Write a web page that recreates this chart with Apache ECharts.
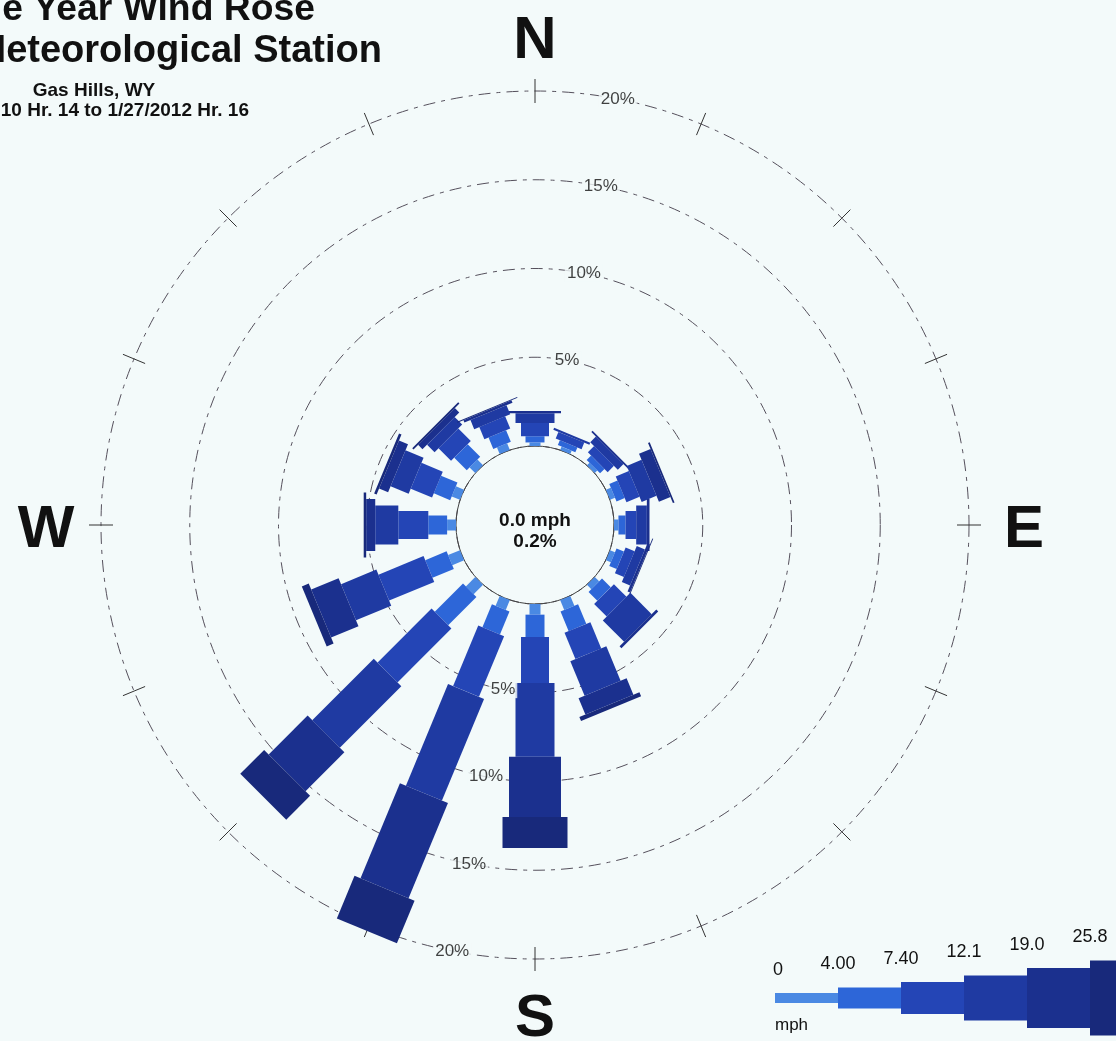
<!DOCTYPE html>
<html>
<head>
<meta charset="utf-8">
<title>Wind Rose - Gas Hills, WY</title>
<script src="https://cdn.jsdelivr.net/npm/echarts@6/dist/echarts.min.js"></script>
<style>
  html, body { margin: 0; padding: 0; background: #f3fafa; }
  #chart { width: 1116px; height: 1041px; }
</style>
</head>
<body>
<div id="chart"></div>
<script>
// 16 compass sectors, clockwise from north
const directions = ['N', 'NNE', 'NE', 'ENE', 'E', 'ESE', 'SE', 'SSE',
                    'S', 'SSW', 'SW', 'WSW', 'W', 'WNW', 'NW', 'NNW']
const speedBins = ['0', '4.00', '7.40', '12.1', '19.0', '25.8']
const ringTicks = [5, 10, 15, 20]
const calmPct = 0.2

// percent of hours per direction, one array per speed class (mph)
const pct0to4   = [0.20, 0.20, 0.20, 0.30, 0.25, 0.30, 0.35, 0.60, 0.60, 0.60, 0.75, 0.72, 0.50, 0.50, 0.45, 0.40]
const pct4to7   = [0.35, 0.30, 0.35, 0.50, 0.40, 0.45, 0.70, 1.20, 1.26, 1.40, 2.25, 1.30, 1.06, 1.00, 1.00, 0.70]
const pct7to12  = [0.75, 0.40, 0.50, 0.80, 0.60, 0.55, 1.00, 1.60, 2.59, 3.70, 4.30, 2.75, 1.69, 1.30, 1.00, 0.75]
const pct12to19 = [0.55, 0.12, 0.45, 0.90, 0.60, 0.50, 1.70, 2.10, 4.15, 6.20, 4.90, 2.15, 1.30, 1.10, 0.60, 0.55]
const pct19to26 = [0.12, 0.00, 0.10, 0.70, 0.15, 0.15, 0.15, 1.00, 3.40, 5.80, 3.10, 1.67, 0.51, 0.55, 0.35, 0.15]
const pct26up   = [0.00, 0.00, 0.00, 0.10, 0.00, 0.05, 0.00, 0.25, 1.75, 2.60, 1.90, 0.42, 0.14, 0.15, 0.10, 0.05]
const speedClasses = [pct0to4, pct4to7, pct7to12, pct12to19, pct19to26, pct26up]

const colors = ['#4a89e3', '#2d66d8', '#2445b6', '#1f3aa2', '#1b308e', '#18297b']
const barWidths = [11, 19, 28, 39, 52, 65]
const legendHeights = [10, 21, 32, 45, 60, 75]

const FONT = '"Liberation Sans", Arial, Helvetica, sans-serif'
const BG = '#f3fafa'
const RING = '#55505c'
const CENTER = [535, 525]
const LETTER_RADIUS = 23.1 // in % units, just outside the 20% ring

// stack the classes outward: [start, angle, end, class]
const segments = []
directions.forEach((d, i) => {
  let start = 0
  speedClasses.forEach((vals, c) => {
    const end = start + vals[i]
    if (vals[i] > 0) segments.push([start, i * 22.5, end, c])
    start = end
  })
})

// rectangle of constant pixel width along the direction
function renderSegment(params, api) {
  const r0 = api.value(0)
  const a = api.value(1)
  const r1 = api.value(2)
  const c = api.value(3)
  const p0 = api.coord([r0, a])
  const p1 = api.coord([r1, a])
  const o = api.coord([0, a])
  const f = api.coord([20, a])
  let ux = f[0] - o[0]
  let uy = f[1] - o[1]
  const len = Math.hypot(ux, uy)
  ux /= len
  uy /= len
  const h = barWidths[c] / 2
  const nx = -uy * h
  const ny = ux * h
  return {
    type: 'polygon',
    shape: {
      points: [
        [p0[0] + nx, p0[1] + ny],
        [p1[0] + nx, p1[1] + ny],
        [p1[0] - nx, p1[1] - ny],
        [p0[0] - nx, p0[1] - ny],
      ],
    },
    style: { fill: colors[c] },
  }
}

function renderLetter(params, api) {
  const p = api.coord([LETTER_RADIUS, api.value(1)])
  return {
    type: 'text',
    x: p[0],
    y: p[1] + 5, // glyph sits a bit above the middle of its box
    style: {
      text: directions[api.value(2)],
      font: 'bold 60px ' + FONT,
      fill: '#111',
      align: 'center',
      verticalAlign: 'middle',
    },
  }
}

const ringLabels = []
ringTicks.forEach(t => {
  ringLabels.push([t, 11])
  ringLabels.push([t, 191])
})

const compass = []
directions.forEach((d, i) => {
  if (d.length === 1) compass.push([LETTER_RADIUS, i * 22.5, i])
})

const hiddenRadius = (idx) => ({
  polarIndex: idx, type: 'value', min: 0, max: 20,
  axisLine: { show: false }, axisTick: { show: false },
  axisLabel: { show: false }, splitLine: { show: false },
})

// legend graphics
const legend = []
const legX = 775
const legStep = 63
const legY = 998
speedClasses.forEach((vals, c) => {
  legend.push({
    type: 'rect',
    shape: { x: legX + c * legStep, y: legY - legendHeights[c] / 2, width: legStep + 1, height: legendHeights[c] },
    style: { fill: colors[c] },
  })
  legend.push({
    type: 'text', x: legX + c * legStep + (c === 0 ? 3 : 0), y: legY - legendHeights[c] / 2 - 23,
    style: { text: speedBins[c], font: '18px ' + FONT, fill: '#111', align: 'center', verticalAlign: 'middle' },
  })
})
legend.push({
  type: 'text', x: legX, y: 1025,
  style: { text: 'mph', font: '17px ' + FONT, fill: '#111', align: 'left', verticalAlign: 'middle' },
})

const chart = echarts.init(document.getElementById('chart'))

const option = {
  backgroundColor: BG,
  animation: false,
  polar: [
    { center: CENTER, radius: [79, 434] },
    { center: CENTER, radius: 79 },
    { center: CENTER, radius: 434 },
  ],
  angleAxis: [
    {
      polarIndex: 0, type: 'value', min: 0, max: 360, interval: 22.5,
      startAngle: 90, clockwise: true,
      axisLine: { show: false },
      axisTick: { show: true, length: 12, lineStyle: { color: '#333', width: 1 } },
      axisLabel: { show: false },
      splitLine: { show: false },
    },
    {
      polarIndex: 1, type: 'value', min: 0, max: 360, startAngle: 90,
      axisLine: { show: true, lineStyle: { color: '#444', width: 1 } },
      axisTick: { show: false }, axisLabel: { show: false }, splitLine: { show: false },
    },
    {
      polarIndex: 2, type: 'value', min: 0, max: 360, interval: 22.5, startAngle: 90,
      axisLine: { show: false },
      axisTick: { show: true, inside: true, length: 12, lineStyle: { color: '#333', width: 1 } },
      axisLabel: { show: false }, splitLine: { show: false },
    },
  ],
  radiusAxis: [
    {
      polarIndex: 0, type: 'value', min: 0, max: 20, interval: 5,
      axisLine: { show: false }, axisTick: { show: false }, axisLabel: { show: false },
      splitLine: { show: true, lineStyle: { color: RING, width: 1, type: [12, 6, 4, 6] } },
    },
    hiddenRadius(1),
    hiddenRadius(2),
  ],
  series: [
    {
      type: 'custom',
      coordinateSystem: 'polar',
      polarIndex: 0,
      clip: false,
      silent: true,
      encode: { radius: 0, angle: 1 },
      renderItem: renderSegment,
      data: segments,
      z: 3,
    },
    {
      type: 'scatter',
      coordinateSystem: 'polar',
      polarIndex: 0,
      silent: true,
      symbolSize: 0,
      data: ringLabels,
      z: 5,
      label: {
        show: true, position: 'inside',
        formatter: p => p.value[0] + '%',
        fontSize: 17, color: '#111', fontFamily: FONT,
        backgroundColor: BG, padding: [0, 2],
      },
    },
    {
      type: 'custom',
      coordinateSystem: 'polar',
      polarIndex: 0,
      clip: false,
      silent: true,
      encode: { radius: 0, angle: 1 },
      renderItem: renderLetter,
      data: compass,
      z: 5,
    },
  ],
  graphic: [
    { type: 'text', x: 315, y: 10, style: { text: 'One Year Wind Rose', font: 'bold 37.3px ' + FONT, fill: '#111', align: 'right', verticalAlign: 'middle' } },
    { type: 'text', x: 382, y: 52, style: { text: 'Meteorological Station', font: 'bold 38px ' + FONT, fill: '#111', align: 'right', verticalAlign: 'middle' } },
    { type: 'text', x: 94, y: 91, style: { text: 'Gas Hills, WY', font: 'bold 19px ' + FONT, fill: '#111', align: 'center', verticalAlign: 'middle' } },
    { type: 'text', x: 249, y: 111, style: { text: '1/27/2010 Hr. 14 to 1/27/2012 Hr. 16', font: 'bold 19px ' + FONT, fill: '#111', align: 'right', verticalAlign: 'middle' } },
    { type: 'text', x: CENTER[0], y: 521, style: { text: '0.0 mph', font: 'bold 19px ' + FONT, fill: '#111', align: 'center', verticalAlign: 'middle' } },
    { type: 'text', x: CENTER[0], y: 542, style: { text: calmPct.toFixed(1) + '%', font: 'bold 19px ' + FONT, fill: '#111', align: 'center', verticalAlign: 'middle' } },
    ...legend,
  ],
}

chart.setOption(option)
</script>
</body>
</html>
